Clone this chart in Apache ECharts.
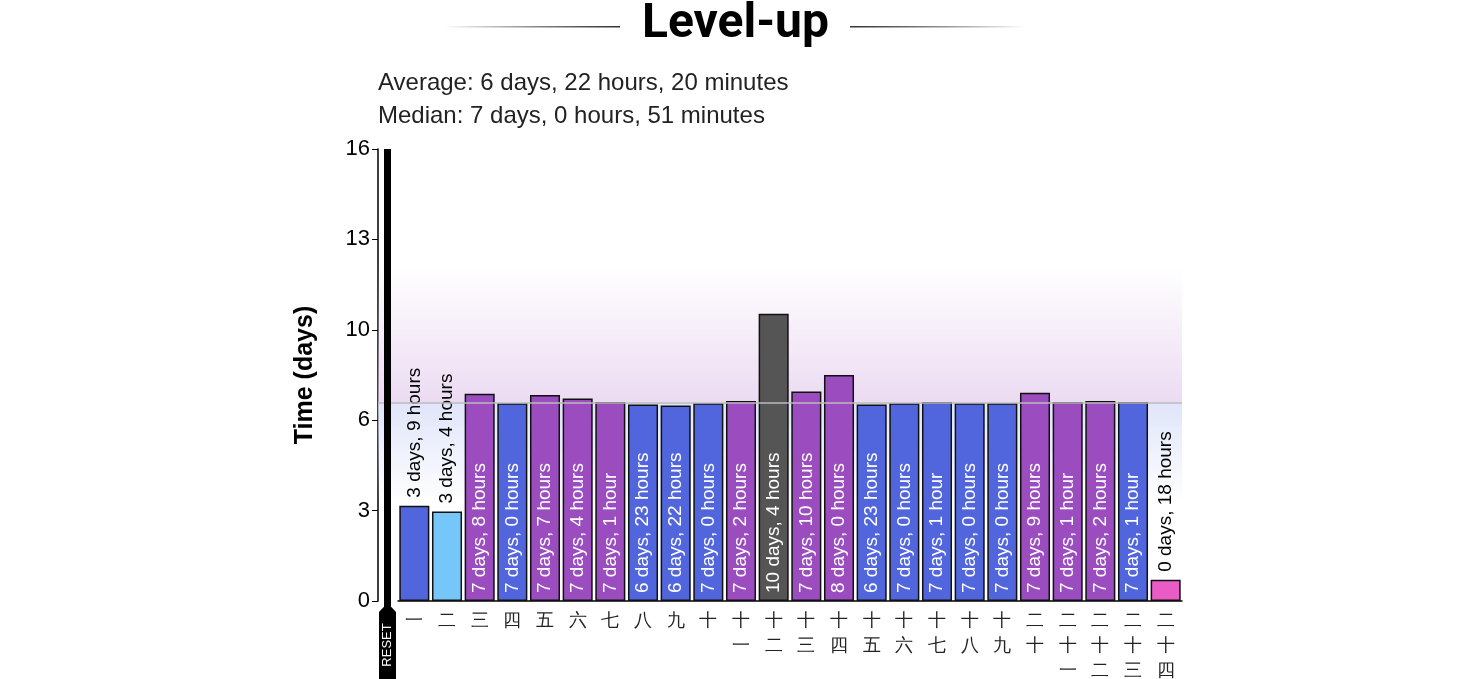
<!DOCTYPE html>
<html><head><meta charset="utf-8">
<script src="https://cdn.jsdelivr.net/npm/echarts@6/dist/echarts.min.js"></script>
<style>html,body{margin:0;background:#fff}#c{width:1471px;height:679px}</style>
</head><body><div id="c"></div>
<script>
const categories = ['一','二','三','四','五','六','七','八','九','十','十一','十二','十三','十四','十五','十六','十七','十八','十九','二十','二十一','二十二','二十三','二十四'];
const values = [3.375,3.167,7.333,7.0,7.292,7.167,7.042,6.958,6.917,7.0,7.083,10.167,7.417,8.0,6.958,7.0,7.042,7.0,7.0,7.375,7.042,7.083,7.042,0.75];
const labels = ['3 days, 9 hours','3 days, 4 hours','7 days, 8 hours','7 days, 0 hours','7 days, 7 hours','7 days, 4 hours','7 days, 1 hour','6 days, 23 hours','6 days, 22 hours','7 days, 0 hours','7 days, 2 hours','10 days, 4 hours','7 days, 10 hours','8 days, 0 hours','6 days, 23 hours','7 days, 0 hours','7 days, 1 hour','7 days, 0 hours','7 days, 0 hours','7 days, 9 hours','7 days, 1 hour','7 days, 2 hours','7 days, 1 hour','0 days, 18 hours'];
const kinds = ['b','l','p','b','p','p','p','b','b','b','p','g','p','p','b','b','b','b','b','p','p','p','b','k'];
const median = 7.035;
const colorMap = {b:'#5166dc', l:'#74c7f8', p:'#9b4dbf', g:'#555555', k:'#e95bc5'};
const chart = echarts.init(document.getElementById('c'));
const data = values.map((v,i)=>{
  const outside = v < 4;
  return {value:v, itemStyle:{color:colorMap[kinds[i]]},
    label:{show:true, formatter:labels[i], rotate:90, fontSize:19, fontFamily:'Liberation Sans',
      position: outside ? 'top' : 'insideBottom', align:'left', verticalAlign:'middle',
      distance: 8, color: outside ? '#000' : '#fff'}};
});
chart.setOption({
  animation:false,
  graphic:[
    {type:'text', left:'center', top:1, style:{text:'Level-up', fontSize:48, fontWeight:'bold', fill:'#000', fontFamily:'Roboto'}},
    {type:'rect', shape:{x:445,y:26,width:175,height:1.5}, style:{fill:new echarts.graphic.LinearGradient(0,0,1,0,[{offset:0,color:'rgba(0,0,0,0)'},{offset:1,color:'#333'}])}},
    {type:'rect', shape:{x:850,y:26,width:175,height:1.5}, style:{fill:new echarts.graphic.LinearGradient(0,0,1,0,[{offset:0,color:'#333'},{offset:1,color:'rgba(0,0,0,0)'}])}},
    {type:'text', left:378, top:71, style:{text:'Average: 6 days, 22 hours, 20 minutes', fontSize:24, fill:'#222', fontFamily:'Liberation Sans'}},
    {type:'text', left:378, top:104, style:{text:'Median: 7 days, 0 hours, 51 minutes', fontSize:24, fill:'#222', fontFamily:'Liberation Sans'}},
    {type:'rect', z:50, shape:{x:384,y:149,width:7,height:530}, style:{fill:'#000'}},
    {type:'polygon', z:50, shape:{points:[[387.5,603],[396,612],[396,679],[379,679],[379,612]]}, style:{fill:'#000'}},
    {type:'text', z:51, x:387.5, y:645, rotation:Math.PI/2, style:{text:'RESET', fill:'#fff', fontSize:13, align:'center', verticalAlign:'middle', fontFamily:'Liberation Sans'}}
  ],
  grid:{left:398, right:289, top:149, bottom:78, containLabel:false, outerBoundsMode:'none'},
  xAxis:{type:'category', data:categories, axisTick:{show:false},
    axisLine:{lineStyle:{color:'#000', width:1.5}},
    axisLabel:{fontSize:18, color:'#222', lineHeight:25, margin:8, interval:0,
      formatter:v=>v.split('').join('\n')}},
  yAxis:{type:'value', min:0, max:16, interval:3.2, offset:20,
    name:'Time (days)', nameLocation:'middle', nameGap:60, nameRotate:90,
    nameTextStyle:{fontSize:25, fontWeight:'bold', color:'#000', fontFamily:'Liberation Sans'},
    axisLine:{show:true, lineStyle:{color:'#000', width:1.5}},
    axisTick:{show:true, length:6, lineStyle:{color:'#000'}},
    splitLine:{show:false},
    axisLabel:{fontSize:22, color:'#000', fontFamily:'Liberation Sans', formatter:v=>Math.round(v)}},
  series:[{type:'bar', data:data, barCategoryGap:'8%',
    itemStyle:{borderColor:'#111', borderWidth:1.5},
    markArea:{silent:true, data:[
      [{yAxis:median, x:378, itemStyle:{color:new echarts.graphic.LinearGradient(0,0,0,1,[{offset:0,color:'rgba(225,200,235,0)'},{offset:1,color:'rgba(225,200,235,0.65)'}])}},{yAxis:11.8, x:1182}],
      [{yAxis:3.5, x:378, itemStyle:{color:new echarts.graphic.LinearGradient(0,0,0,1,[{offset:0,color:'rgba(215,222,248,0.8)'},{offset:1,color:'rgba(215,222,248,0)'}])}},{yAxis:median, x:1182}]
    ]},
    markLine:{silent:true, symbol:'none', label:{show:false},
      lineStyle:{color:'#bbb', type:'solid', width:1.5},
      data:[[{yAxis:median, x:378},{yAxis:median, x:1182}]]}
  }]
});
</script></body></html>
